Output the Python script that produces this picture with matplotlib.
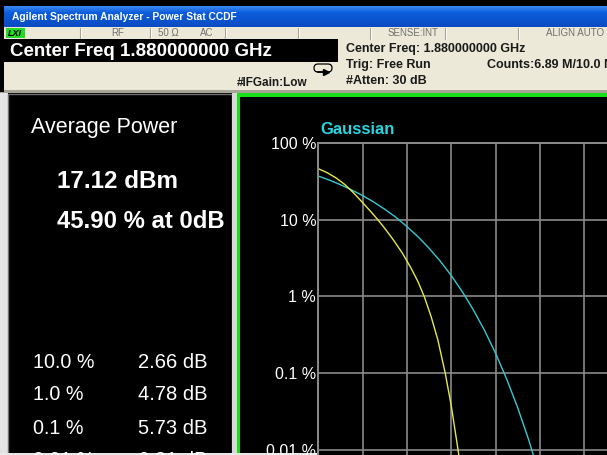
import matplotlib
matplotlib.use("Agg")
import matplotlib.pyplot as plt
from matplotlib.patches import Rectangle, FancyBboxPatch
import matplotlib.colors as mcolors

# measured CCDF trace (yellow): dB above average power vs probability in %
meas_db = [0.0, 0.4, 0.8, 1.2, 1.6, 2.0, 2.4, 2.68, 3.0, 3.4, 3.8, 4.2,
           4.5, 4.78, 5.1, 5.4, 5.73, 6.0, 6.31, 6.5]
meas_pct = [45.9, 40.7, 34.8, 28.5, 22.1, 16.6, 12.4, 10.0, 7.67, 5.37, 3.63, 2.29,
            1.55, 1.0, 0.537, 0.269, 0.10, 0.038, 0.010, 0.004]

# gaussian reference trace (cyan)
gauss_db = [0.0, 0.5, 1.0, 1.5, 2.0, 2.5, 3.0, 3.5, 4.0, 4.5, 5.0, 5.5,
            6.0, 6.5, 7.0, 7.5, 8.0, 8.5, 9.0, 9.5, 10.0, 10.5]
gauss_pct = [36.8, 32.6, 28.4, 24.3, 20.5, 16.9, 13.6, 10.7, 8.1, 5.97, 4.23, 2.88,
             1.87, 1.15, 0.666, 0.362, 0.182, 0.0843, 0.0356, 0.0135, 0.00454, 0.00134]

ytick_vals = [100, 10, 1, 0.1, 0.01, 0.001, 0.0001]
ytick_labels = ["100 %", "10 %", "1 %", "0.1 %", "0.01 %", "0.001 %", "0.0001 %"]
xtick_vals = [0, 2, 4, 6, 8, 10, 12, 14, 16, 18, 20]

table_pct = ["10.0 %", "1.0 %", "0.1 %", "0.01 %"]
table_db = ["2.66 dB", "4.78 dB", "5.73 dB", "6.31 dB"]

avg_power = "17.12 dBm"
avg_pct = "45.90 % at 0dB"

W, H = 607, 455
ARIAL = ["Liberation Sans", "DejaVu Sans"]
NARROW = ["Liberation Sans Narrow", "Liberation Sans", "DejaVu Sans"]

fig = plt.figure(figsize=(W / 100, H / 100), dpi=100)
fig.patch.set_facecolor("black")

# background layer in pixel coordinates (origin top-left)
bg = fig.add_axes([0, 0, 1, 1])
bg.set_xlim(0, W)
bg.set_ylim(H, 0)
bg.axis("off")


def rect(x, y, w, h, fc, ec="none", lw=0, z=1):
    bg.add_patch(Rectangle((x, y), w, h, facecolor=fc, edgecolor=ec, linewidth=lw, zorder=z))


def txt(x, y, s, size, color="black", weight="normal", ha="left", family=ARIAL, style="normal"):
    bg.text(x, y, s, fontsize=size, color=color, weight=weight, ha=ha, va="center",
            family=family, style=style, zorder=5)


# title bar gradient
top = mcolors.to_rgb("#3a86f2")
mid = mcolors.to_rgb("#0c5ddc")
bot = mcolors.to_rgb("#0a4bc2")
for i in range(21):
    t = i / 20
    if t < 0.3:
        a, b, f = top, mid, t / 0.3
    else:
        a, b, f = mid, bot, (t - 0.3) / 0.7
    c = tuple(a[k] + (b[k] - a[k]) * f for k in range(3))
    rect(4, 6 + i, W, 1.05, c)
txt(12, 16.5, "Agilent Spectrum Analyzer - Power Stat CCDF", 7.4, "white", "bold", family=NARROW)

# status bar
rect(4, 27, W, 12, "#ece9d8")
for sx in [80, 150, 225, 298, 370, 445, 518]:
    bg.plot([sx, sx], [27.5, 38.5], color="#a8a498", lw=0.8, zorder=2)
    bg.plot([sx + 1, sx + 1], [27.5, 38.5], color="white", lw=0.6, zorder=2)
rect(6, 28, 19, 10, "#22dd22", z=2)
txt(8, 33, "LXI", 6.5, "black", "bold", style="italic")
txt(124, 33, "RF", 7, "#707070", ha="right", family=NARROW)
txt(158, 33, "50 Ω", 7, "#707070", family=NARROW)
txt(200, 33, "AC", 7, "#707070", family=NARROW)
txt(438, 33, "SENSE:INT", 7, "#707070", ha="right", family=NARROW)
txt(604, 33, "ALIGN AUTO", 7, "#707070", ha="right", family=NARROW)

# centre frequency box and info area
rect(4, 39, W, 53, "#ece9d8")
rect(0, 39, 338, 23, "black", z=2)
txt(10, 51, "Center Freq 1.880000000 GHz", 13.5, "white", "bold")
txt(346, 49, "Center Freq: 1.880000000 GHz", 9, "#1a1a1a", "bold")
txt(346, 65, "Trig: Free Run", 9, "#1a1a1a", "bold")
txt(487, 65, "Counts:6.89 M/10.0 M", 9, "#1a1a1a", "bold")
txt(346, 81, "#Atten: 30 dB", 9, "#1a1a1a", "bold")
txt(237, 83, "#IFGain:Low", 8.5, "#1a1a1a", "bold")
bg.add_patch(FancyBboxPatch((314, 64), 18, 8, boxstyle="round,pad=0,rounding_size=4",
                            facecolor="none", edgecolor="black", linewidth=0.9, zorder=3))
bg.plot([318, 326], [72, 72], color="black", lw=1.2, zorder=4)
bg.plot([326], [72], marker=">", color="black", markersize=4, zorder=4)

# separators and panels
rect(0, 0, 4, 92, "black", z=3)
rect(0, 90, W, 3, "#a8a498", z=2)
rect(0, 93, 8, H, "#e4e4e4", z=2)
rect(8, 94, 224, H, "black", ec="#707070", lw=1, z=2)
rect(232, 93, 5, H, "#d8d8d8", z=2)
rect(237, 93, W, H, "black", z=2)
rect(237, 93, W, 4, "#19e019", z=3)
rect(237, 93, 3, H, "#19e019", z=3)
rect(0, 452.5, W, 2.5, "#e8e8e8", z=4)

# left panel readouts
txt(31, 128, "Average Power", 15.5, "white")
txt(57, 181, avg_power, 17.5, "white", "bold")
txt(57, 221, avg_pct, 17.2, "white", "bold")
for i in range(len(table_pct)):
    y = 362 + 33 * i
    txt(33, y, table_pct[i], 14.2, "white")
    txt(138, y, table_db[i], 14.5, "white")

# CCDF plot: 2 dB/div, 0-20 dB, 100 % down to 0.0001 %
px_left, px_top = 318.3, 142.7
px_div, px_dec = 22.15, 76.8
ax_w = 20 * px_div
ax_h = 6 * px_dec
ax = fig.add_axes([px_left / W, (H - px_top - ax_h) / H, ax_w / W, ax_h / H])
ax.set_facecolor("black")
ax.set_yscale("log")
ax.set_xlim(0, 20)
ax.set_ylim(0.0001, 100)
ax.set_xticks(xtick_vals)
ax.set_xticklabels([])
ax.set_yticks(ytick_vals)
ax.set_yticklabels(ytick_labels)
ax.minorticks_off()
ax.tick_params(length=0, pad=1.5, labelsize=11.5, labelcolor="white")
for lbl in ax.get_yticklabels():
    lbl.set_family(ARIAL)
ax.grid(True, color="#8a8a8a", linewidth=1.2)
for sp in ax.spines.values():
    sp.set_color("#8a8a8a")
    sp.set_linewidth(1.4)

ax.plot(gauss_db, gauss_pct, color="#35c9d2", linewidth=1.0)
ax.plot(meas_db, meas_pct, color="#e6e84a", linewidth=1.0)
ax.text(0.1, 148, "Gaussian", color="#2ad6df", fontsize=12, weight="bold", family=ARIAL,
        va="center", clip_on=False)

fig.savefig("out.png", dpi=100, facecolor=fig.get_facecolor())
